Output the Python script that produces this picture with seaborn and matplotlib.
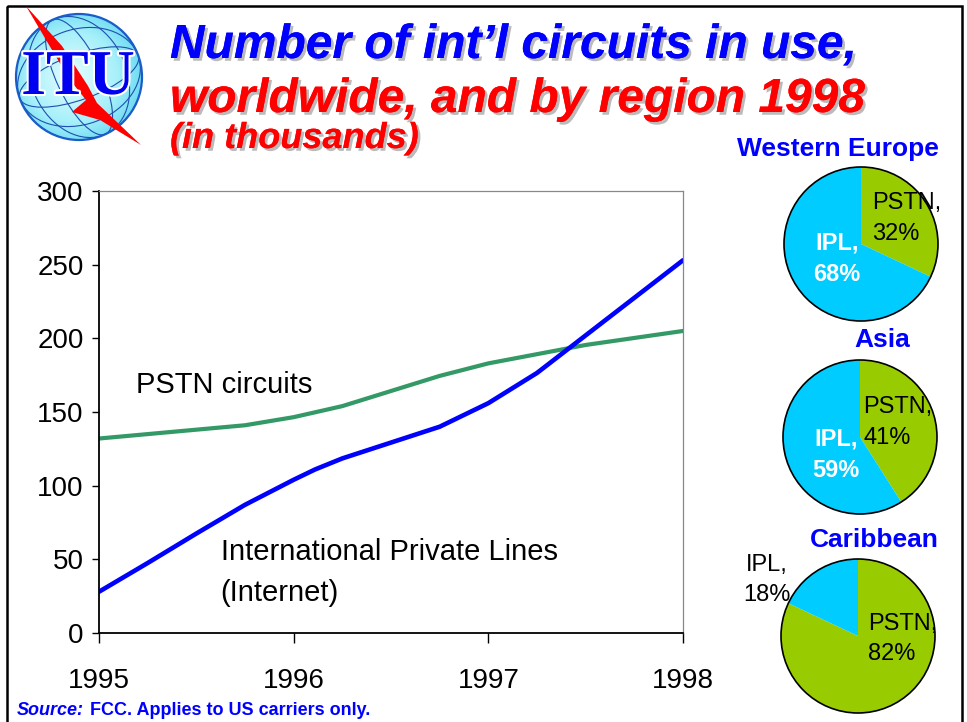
import numpy as np
import pandas as pd
import seaborn as sns
import matplotlib.pyplot as plt
import matplotlib.patheffects as pe
from matplotlib.patches import Circle, Ellipse, Polygon, Rectangle

# values (thousands of circuits)
pstn_year = [1995.0, 1995.75, 1996.0, 1996.25, 1996.75, 1997.0, 1997.5, 1998.0]
pstn_k = [132, 141, 146.5, 154, 174.5, 183, 195.5, 205]
ipl_year = [1995.0, 1995.25, 1995.5, 1995.75, 1996.0, 1996.11, 1996.25, 1996.75, 1997.0, 1997.25, 1998.0]
ipl_k = [28, 47.5, 67.5, 87, 104, 111, 118.5, 140, 156, 176.5, 253]

regions = ['Western Europe', 'Asia', 'Caribbean']
pstn_share = [32, 41, 82]
ipl_share = [68, 59, 18]

x_ticks = [1995, 1996, 1997, 1998]
y_ticks = [0, 50, 100, 150, 200, 250, 300]

BLUE = '#0000FF'
RED = '#FF0000'
CYAN = '#00CCFF'
LIME = '#99CC00'
GREEN = '#339966'

sns.set_style('white')
plt.rcParams['font.family'] = ['Liberation Sans', 'DejaVu Sans']
plt.rcParams['text.color'] = 'black'
plt.rcParams['xtick.color'] = 'black'
plt.rcParams['ytick.color'] = 'black'

W, H = 967, 722
fig = plt.figure(figsize=(W / 100, H / 100), dpi=100)


def box(left, top, width, height):
    return [left / W, 1 - (top + height) / H, width / W, height / H]


# background layer in pixel coordinates
bg = fig.add_axes([0, 0, 1, 1])
bg.set_xlim(0, W)
bg.set_ylim(H, 0)
bg.axis('off')
bg.add_patch(Rectangle((7, 6), 955, 730, fill=False, edgecolor='black', lw=1.8))

# ITU logo
gx, gy, gr = 79, 77, 63
yy, xx = np.mgrid[0:1:200j, 0:1:200j]
dist = np.sqrt((xx - 0.45) ** 2 + (yy - 0.5) ** 2)
grad = np.clip(dist / 0.72, 0, 1)
img = bg.imshow(grad, cmap=sns.blend_palette(['#e6fdff', '#a6f0fa', '#3cc8ec'], as_cmap=True),
                extent=(gx - gr, gx + gr, gy + gr, gy - gr), zorder=1)
clip = Circle((gx, gy), gr, transform=bg.transData)
img.set_clip_path(clip)
for w_, a_ in [(45, -25), (95, -25), (126, 60)]:
    e = Ellipse((gx, gy), w_, 2 * gr, angle=a_, fill=False, edgecolor='#1f4fb0', lw=0.8, zorder=2)
    bg.add_patch(e)
    e.set_clip_path(clip)
for h_ in [45, 95]:
    e = Ellipse((gx, gy), 2 * gr, h_, angle=-20, fill=False, edgecolor='#1f4fb0', lw=0.8, zorder=2)
    bg.add_patch(e)
    e.set_clip_path(clip)
bg.add_patch(Circle((gx, gy), gr, fill=False, edgecolor='#1a5cc8', lw=1.6, zorder=3))
bolt = [(26, 6), (62, 46), (88, 86), (97, 103), (141, 145), (100, 120), (72, 112),
        (86, 100), (70, 80), (52, 50)]
bg.add_patch(Polygon(bolt, closed=True, facecolor=RED, edgecolor='none', zorder=3.5))
bg.text(gx - 1, gy + 2, 'ITU', family='Liberation Serif', weight='bold', fontsize=46, color='#0000F0',
        ha='center', va='center', zorder=4,
        path_effects=[pe.withStroke(linewidth=3, foreground='white')])

# title
shadow = [pe.withSimplePatchShadow(offset=(2, -2), shadow_rgbFace='#aaaaaa', alpha=0.8), pe.Normal()]
bg.text(170, 58, 'Number of int\u2019l circuits in use,', color=BLUE, fontsize=34.5, weight='bold',
        style='italic', va='baseline', path_effects=shadow)
bg.text(170, 112, 'worldwide, and by region 1998', color=RED, fontsize=34.5, weight='bold',
        style='italic', va='baseline', path_effects=shadow)
bg.text(170, 148, '(in thousands)', color=RED, fontsize=26, weight='bold',
        style='italic', va='baseline', path_effects=shadow)

bg.text(17, 715, 'Source:', color=BLUE, fontsize=13, weight='bold', style='italic', va='baseline')
bg.text(90, 715, 'FCC. Applies to US carriers only.', color=BLUE, fontsize=13, weight='bold', va='baseline')

# main line chart
ax = fig.add_axes(box(99, 191, 584, 442))
sns.lineplot(x=pstn_year, y=pstn_k, ax=ax, color=GREEN, linewidth=3)
sns.lineplot(x=ipl_year, y=ipl_k, ax=ax, color=BLUE, linewidth=3.3)
ax.set_xlim(1995, 1998)
ax.set_ylim(0, 300)
ax.set_xticks(x_ticks)
ax.set_yticks(y_ticks)
ax.tick_params(axis='y', direction='out', length=5, width=1, pad=6, labelsize=20, left=True,
               colors='black')
ax.tick_params(axis='x', direction='out', length=7, width=1, pad=18, labelsize=20, bottom=True,
               colors='black')
for s in ['left', 'bottom']:
    ax.spines[s].set_color('black')
    ax.spines[s].set_linewidth(1.3)
for s in ['top', 'right']:
    ax.spines[s].set_color('#888888')
    ax.spines[s].set_linewidth(0.9)
ax.set_xlabel('')
ax.set_ylabel('')
ax.text(1995.19, 163, 'PSTN circuits', fontsize=21, va='baseline', color='black')
ax.text(1995.625, 21.7, 'International Private Lines\n(Internet)', fontsize=21, va='baseline',
        linespacing=1.58, color='black')

# regional pies
pie_centers = [(861, 244), (860, 437), (858, 636)]
title_pos = [(838, 156), (882, 347), (874, 547)]
pstn_lbl = [(0.14, 0.33), (0.04, 0.19), (0.13, -0.04)]
ipl_lbl = [(-0.31, -0.19, 'white'), (-0.31, -0.23, 'white'), (-1.18, 0.73, 'black')]
R = 77
for i, name in enumerate(regions):
    cx, cy = pie_centers[i]
    pa = fig.add_axes(box(cx - 80, cy - 80, 160, 160))
    pa.pie([pstn_share[i], ipl_share[i]], colors=[LIME, CYAN], startangle=90, counterclock=False,
           radius=1, wedgeprops=dict(linewidth=0))
    pa.add_patch(Circle((0, 0), 1, fill=False, edgecolor='black', lw=1.2))
    pa.set_xlim(-80 / R, 80 / R)
    pa.set_ylim(-80 / R, 80 / R)
    pa.set_aspect('equal')
    pa.axis('off')
    px, py = pstn_lbl[i]
    pa.text(px, py, f'PSTN,\n{pstn_share[i]}%', fontsize=17, ha='left', va='center', linespacing=1.5,
            color='black')
    ix, iy, ic = ipl_lbl[i]
    pa.text(ix, iy, f'IPL,\n{ipl_share[i]}%', fontsize=17, ha='center', va='center', linespacing=1.5,
            color=ic, weight='bold' if ic == 'white' else 'normal')
    tx, ty = title_pos[i]
    bg.text(tx, ty, name, color=BLUE, fontsize=19, weight='bold', ha='center', va='baseline')

fig.savefig('out.png', dpi=100)
